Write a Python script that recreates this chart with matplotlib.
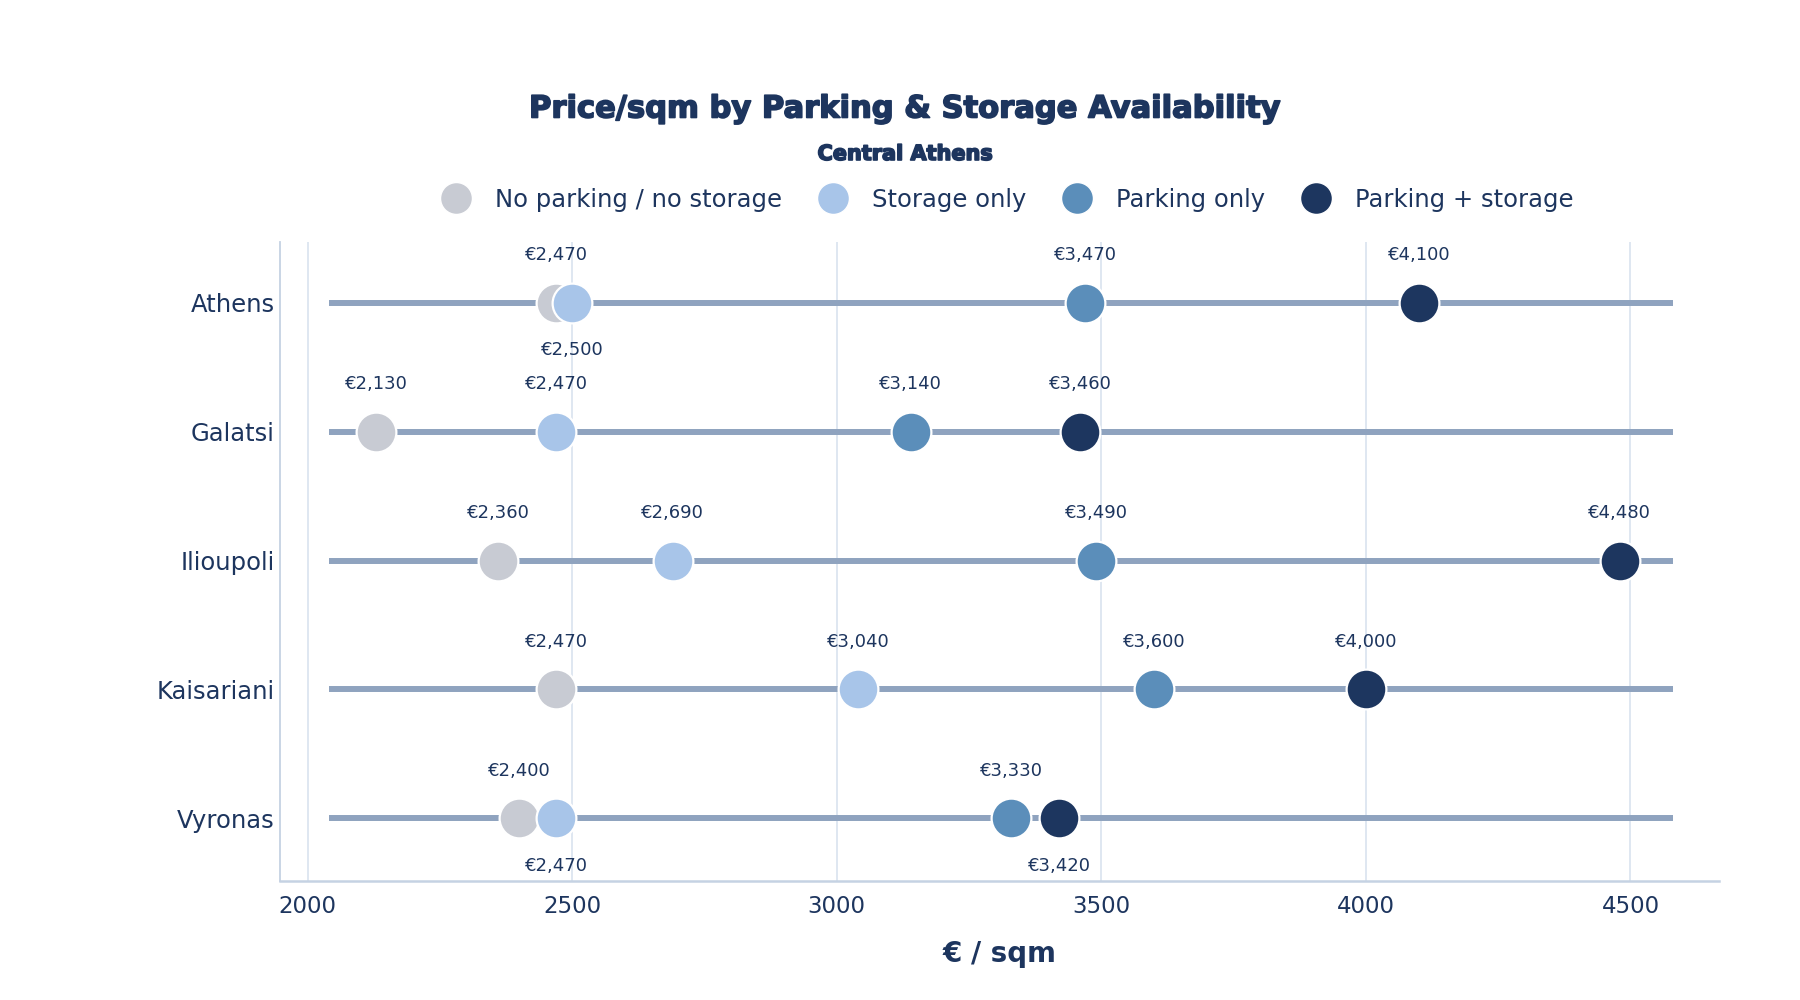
import matplotlib
matplotlib.use("Agg")
import matplotlib.pyplot as plt
import matplotlib.patheffects as pe
from matplotlib.lines import Line2D

areas = ["Athens", "Galatsi", "Ilioupoli", "Kaisariani", "Vyronas"]
series_names = ["No parking / no storage", "Storage only", "Parking only", "Parking + storage"]
no_parking_no_storage = [2470, 2130, 2360, 2470, 2400]
storage_only = [2500, 2470, 2690, 3040, 2470]
parking_only = [3470, 3140, 3490, 3600, 3330]
parking_storage = [4100, 3460, 4480, 4000, 3420]
x_ticks = [2000, 2500, 3000, 3500, 4000, 4500]

colors = ["#c8cbd3", "#a8c5e9", "#5b8eba", "#1d365f"]
text_color = "#1d355e"
line_color = "#8fa3bf"
grid_color = "#d6e0ee"
spine_color = "#c5d2e3"

plt.rcParams["font.family"] = ["DejaVu Sans"]


def label_sides(values_by_series):
    # put a label below when it would collide with the previous one on the same row
    sides = []
    n_rows = len(values_by_series[0])
    for row in range(n_rows):
        row_vals = [s[row] for s in values_by_series]
        order = sorted(range(len(row_vals)), key=lambda k: row_vals[k])
        row_sides = [1] * len(row_vals)
        prev = None
        for k in order:
            if prev is not None and abs(row_vals[k] - row_vals[prev]) < 150 and row_sides[prev] == 1:
                row_sides[k] = -1
            prev = k
        sides.append(row_sides)
    return sides


def main():
    series = [no_parking_no_storage, storage_only, parking_only, parking_storage]
    y = list(range(len(areas)))

    fig = plt.figure(figsize=(18, 10), dpi=100)
    ax = fig.add_axes([0.1556, 0.119, 0.7993, 0.639])

    all_vals = [v for s in series for v in s]
    line_lo = min(all_vals) - 90
    line_hi = max(all_vals) + 100
    for yi in y:
        ax.plot([line_lo, line_hi], [yi, yi], color=line_color, linewidth=4.3,
                solid_capstyle="butt", zorder=2)

    for i, (name, vals) in enumerate(zip(series_names, series)):
        ax.scatter(vals, y, s=820, color=colors[i], edgecolor="white", linewidth=1.6,
                   zorder=3 + i, label=name)

    sides = label_sides(series)
    for row, yi in enumerate(y):
        for i, vals in enumerate(series):
            side = sides[row][i]
            ax.annotate(f"€{vals[row]:,}", (vals[row], yi), xytext=(0, 34 * side),
                        textcoords="offset points", ha="center", va="center",
                        fontsize=13, color=text_color, zorder=10)

    ax.set_xlim(1948, 4667)
    ax.set_ylim(len(areas) - 0.515, -0.47)
    ax.set_xticks(x_ticks)
    ax.set_yticks(y)
    ax.set_yticklabels(areas)
    ax.tick_params(axis="x", length=0, pad=10, labelsize=16.5, labelcolor=text_color)
    ax.tick_params(axis="y", length=0, pad=4, labelsize=17.5, labelcolor=text_color)
    ax.grid(axis="x", color=grid_color, linewidth=1.1, zorder=0)
    ax.set_axisbelow(True)
    for side in ["top", "right"]:
        ax.spines[side].set_visible(False)
    ax.spines["left"].set_color(spine_color)
    ax.spines["left"].set_linewidth(1.3)
    ax.spines["bottom"].set_color(spine_color)
    ax.spines["bottom"].set_linewidth(1.8)

    ax.set_xlabel("€ / sqm", fontsize=20, fontweight="bold", color=text_color, labelpad=16)

    heavy = [pe.withStroke(linewidth=1.2, foreground=text_color)]
    fig.text(0.502, 0.891, "Price/sqm by Parking & Storage Availability", ha="center", va="center",
             fontsize=22, fontweight="bold", color=text_color, path_effects=heavy)
    fig.text(0.503, 0.846, "Central Athens", ha="center", va="center",
             fontsize=15, fontweight="bold", color=text_color, path_effects=heavy)

    handles = [Line2D([0], [0], marker="o", linestyle="none", markersize=23,
                      markerfacecolor=c, markeredgecolor="white") for c in colors]
    fig.legend(handles, series_names, loc="center", bbox_to_anchor=(0.557, 0.80), ncol=4,
               frameon=False, fontsize=17.5, labelcolor=text_color, handletextpad=0.6,
               columnspacing=1.1)

    fig.savefig("out.png", dpi=100, facecolor="white")
    plt.close(fig)


if __name__ == "__main__":
    main()
